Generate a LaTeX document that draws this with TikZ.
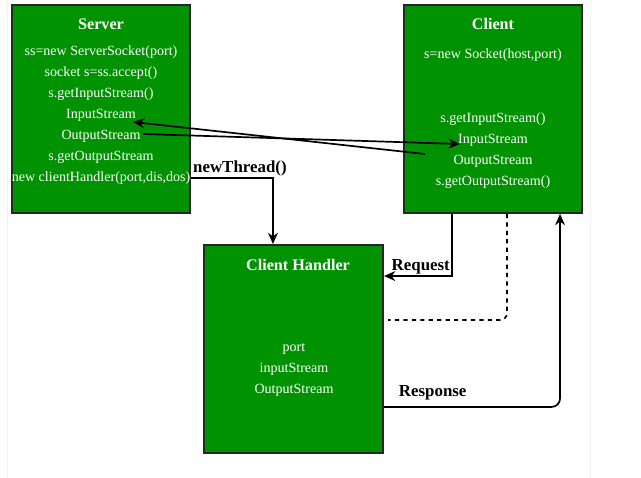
\documentclass[tikz,border=0pt]{standalone}
\usepackage{fontspec}
\setmainfont{Liberation Serif}
\usepackage{tikz}
\usetikzlibrary{positioning, calc, arrows.meta}
\definecolor{boxGreen}{RGB}{0, 146, 0}

\begin{document}
\begin{tikzpicture}[
    x=0.025cm, y=-0.025cm,
    block/.style={rectangle, draw=black!85, fill=boxGreen, line width=1.3pt,
                  minimum width=4.45cm, minimum height=5.2cm, inner sep=0pt},
    head/.style={text=white, font=\fontsize{11.5}{14}\selectfont\bfseries},
    body/.style={text=white, align=center, inner sep=0pt,
                 font=\fontsize{10}{14.9}\selectfont},
    lbl/.style={font=\fontsize{12}{14}\selectfont\bfseries, inner sep=1pt},
    signal/.style={-{Stealth[length=8pt, width=7pt]}, line width=1.2pt},
  ]
    \useasboundingbox (0,0) rectangle (641,478);
    \draw[black!5] (7,0) -- (7,478) (590,0) -- (590,478);

    % server side
    \node[block] (server) at (101,109) {};
    \node[head] (serverTitle) at (101,24) {Server};
    \node[body] (serverText) at (101,115)
      {ss=new ServerSocket(port)\\socket s=ss.accept()\\s.getInputStream()\\
       InputStream\\OutputStream\\s.getOutputStream\\new clientHandler(port,dis,dos)};

    % client side
    \node[block] (client) at (493,109) {};
    \node[head] (clientTitle) at (493,24) {Client};
    \node[body] (clientSock) at (493,55) {s=new Socket(host,port)};
    \node[body] (clientText) at (493,151)
      {s.getInputStream()\\InputStream\\OutputStream\\s.getOutputStream()};

    % handler
    \node[block, minimum width=4.48cm] (handler) at (293.5,349) {};
    \node[head] (handlerTitle) at (298,265) {Client Handler};
    \node[body] (handlerText) at (294,370) {port\\inputStream\\OutputStream};

    % stream ends
    \coordinate (srvIn) at (133,122);
    \coordinate (srvOut) at (143,134);
    \coordinate (cliIn) at (460,144);
    \coordinate (cliOut) at (425,154);

    \draw[signal] (cliOut) -- (srvIn);
    \draw[signal] (srvOut) -- (cliIn);

    \draw[signal] ($(server.south east)+(0,-36)$) -| ($(handler.north west)+(70,0)$)
      node[lbl, above right, pos=0] {newThread()};
    \draw[signal] ($(client.south west)+(49,0)$) |- ($(handler.north east)+(0,32)$)
      node[lbl, above left, pos=0.5] {Request};
    \draw[dashed, line width=1.2pt, rounded corners=5pt]
      ($(client.south west)+(104,0)$) |- ($(handler.north east)+(4,76)$);
    \draw[signal, rounded corners=6pt] ($(handler.south east)+(0,-47)$)
      -| ($(client.south west)+(157,0)$)
      node[lbl, above right, pos=0, xshift=9pt, yshift=3pt] {Response};
  \end{tikzpicture}
\end{document}
